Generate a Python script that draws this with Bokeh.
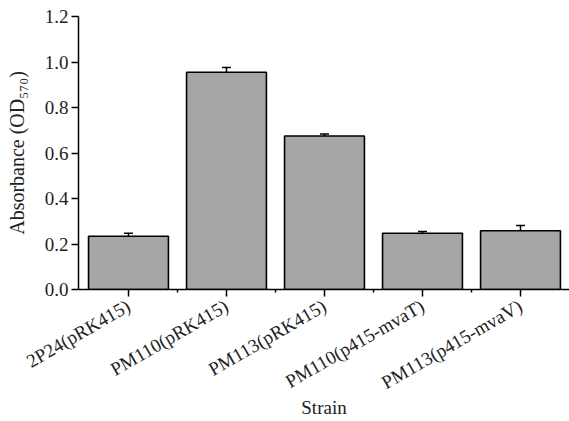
import math
from bokeh.plotting import figure
from bokeh.models import ColumnDataSource, FixedTicker, Whisker
from bokeh.embed import file_html
from bokeh.resources import INLINE

strains = ["2P24(pRK415)", "PM110(pRK415)", "PM113(pRK415)",
           "PM110(p415-mvaT)", "PM113(p415-mvaV)"]
absorbance = [0.234, 0.955, 0.675, 0.247, 0.258]
errors = [0.013, 0.021, 0.009, 0.008, 0.023]
y_ticks = [0.0, 0.2, 0.4, 0.6, 0.8, 1.0, 1.2]

FONT = "Liberation Serif"
TXT = "#222222"
X0, X1 = -0.51, 4.50
xs = list(range(len(strains)))
src = ColumnDataSource(dict(
    x=xs, top=absorbance,
    upper=[a + e for a, e in zip(absorbance, errors)],
))

p = figure(width=569, height=421, output_backend="svg", toolbar_location=None,
           x_range=(X0, X1), y_range=(0, 1.2),
           min_border_left=78, min_border_right=0, min_border_top=16,
           min_border_bottom=132)
p.outline_line_color = None
p.grid.visible = False

p.vbar(x="x", top="top", width=0.815, bottom=0, source=src,
       fill_color="#a6a6a6", line_color="black", line_width=1.6)

w = Whisker(base="x", lower="top", upper="upper", source=src,
            line_color="black", line_width=1.5)
w.lower_head = None
w.upper_head.size = 9
w.upper_head.line_width = 1.5
p.add_layout(w)

p.yaxis.ticker = FixedTicker(ticks=y_ticks)
p.yaxis.major_label_overrides = {t: f"{t:.1f}" for t in y_ticks}
p.yaxis.minor_tick_line_color = None
p.yaxis.major_tick_in = 0
p.yaxis.major_tick_out = 7
p.yaxis.major_label_standoff = 3
p.yaxis.axis_label = "Absorbance (OD\u2085\u2087\u2080)"
p.yaxis.axis_label_standoff = 14
p.yaxis.axis_label_text_font_size = "20px"

p.xaxis.ticker = FixedTicker(ticks=xs, minor_ticks=[i + 0.5 for i in xs[:-1]])
p.xaxis.major_label_overrides = {i: s for i, s in enumerate(strains)}
p.xaxis.major_label_orientation = math.radians(30)
p.xaxis.major_tick_in = 0
p.xaxis.major_tick_out = 7
p.xaxis.minor_tick_in = 0
p.xaxis.minor_tick_out = 3
p.xaxis.major_label_standoff = 8
p.xaxis.axis_label = "Strain"
p.xaxis.axis_label_standoff = -8
p.xaxis.axis_label_text_font_size = "19px"

for ax in (p.xaxis, p.yaxis):
    ax.axis_line_width = 1.5
    ax.major_tick_line_width = 1.5
    ax.minor_tick_line_width = 1.5
    ax.axis_line_color = "black"
    ax.major_tick_line_color = "black"
    ax.major_label_text_font = FONT
    ax.major_label_text_font_size = "19px"
    ax.major_label_text_color = TXT
    ax.axis_label_text_font = FONT
    ax.axis_label_text_font_style = "normal"
    ax.axis_label_text_color = TXT
p.xaxis.minor_tick_line_color = "black"

open("out.html", "w").write(file_html(p, INLINE))
